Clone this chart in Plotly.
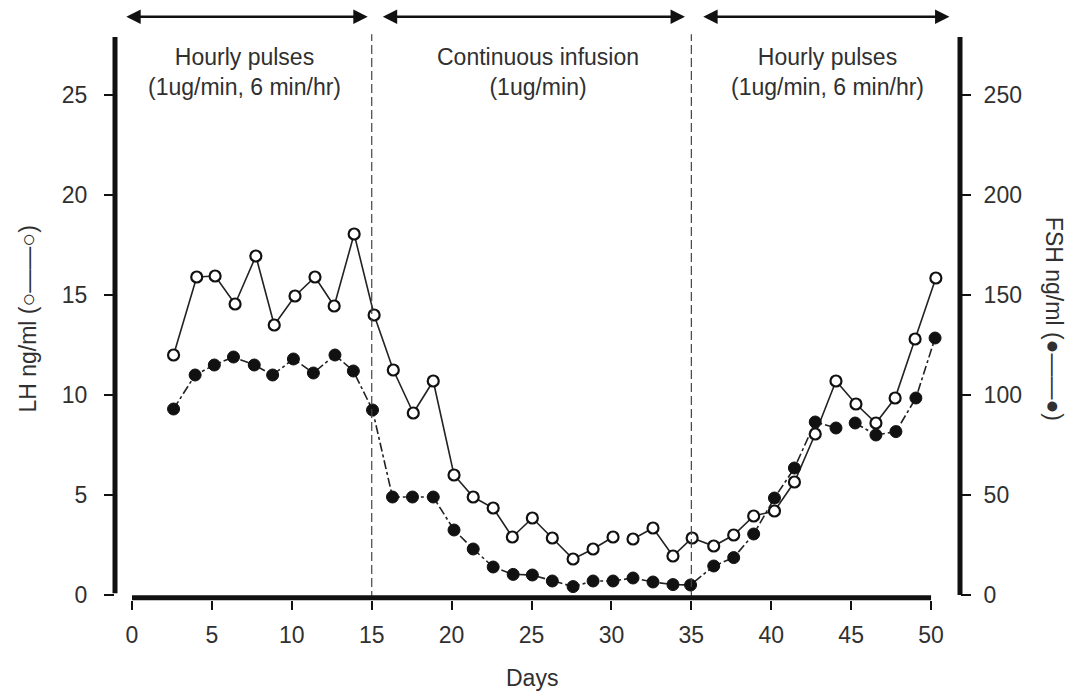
import plotly.graph_objects as go

# ---- data ----
lh_days = [2.6, 4.05, 5.2, 6.45, 7.75, 8.9, 10.2, 11.45, 12.65, 13.9, 15.15, 16.35, 17.6, 18.85,
           20.15, 21.35, 22.6, 23.8, 25.05, 26.3, 27.6, 28.85, 30.1, None, 31.35, 32.6, 33.85,
           35.05, 36.4, 37.65, 38.9, 40.2, 41.45, 42.75, 44.05, 45.3, 46.55, 47.75, 49.0, 50.3]
lh_values = [12.0, 15.9, 15.95, 14.55, 16.95, 13.5, 14.95, 15.9, 14.45, 18.05, 14.0, 11.25, 9.1, 10.7,
             6.0, 4.9, 4.35, 2.9, 3.85, 2.85, 1.8, 2.3, 2.9, None, 2.8, 3.35, 1.95,
             2.85, 2.45, 3.0, 3.95, 4.2, 5.65, 8.05, 10.7, 9.55, 8.6, 9.85, 12.8, 15.85]

fsh_days = [2.6, 3.95, 5.15, 6.35, 7.65, 8.8, 10.1, 11.35, 12.7, 13.85, 15.05, 16.3, 17.55, 18.85,
            20.15, 21.35, 22.6, 23.85, 25.05, 26.3, 27.6, 28.85, 30.1, 31.35, 32.6, 33.85, 34.95,
            36.4, 37.65, 38.9, 40.2, 41.45, 42.75, 44.05, None, 45.25, 46.55, 47.8, 49.05, 50.25]
fsh_values = [93, 110, 115, 119, 115, 110, 118, 111, 120, 112, 92.5, 49, 49, 49,
              32.5, 23, 14, 10.3, 10, 7, 4.2, 7, 7, 8.5, 6.5, 5.2, 5,
              14.5, 18.7, 30.5, 48.5, 63.5, 86.5, 83.5, None, 86, 80, 81.7, 98.5, 128.5]

x_ticks = [0, 5, 10, 15, 20, 25, 30, 35, 40, 45, 50]
lh_ticks = [0, 5, 10, 15, 20, 25]
fsh_ticks = [0, 50, 100, 150, 200, 250]

phase_bounds = [15, 35]
phase_labels = ["Hourly pulses<br>(1ug/min, 6 min/hr)",
                "Continuous infusion<br>(1ug/min)",
                "Hourly pulses<br>(1ug/min, 6 min/hr)"]
phase_label_x = [7.05, 25.4, 43.5]
phase_arrows = [(-0.45, 14.75), (15.6, 34.6), (35.65, 51.15)]

FONT = "Liberation Sans, Arial, sans-serif"
TXT = "#303030"
FS = 23

fig = go.Figure()

fig.add_trace(go.Scatter(
    x=lh_days, y=lh_values, mode="lines+markers", name="LH",
    line=dict(color="#222", width=1.6),
    marker=dict(symbol="circle", size=11, color="white", line=dict(color="#111", width=2.2)),
    connectgaps=False, yaxis="y", cliponaxis=False))

fig.add_trace(go.Scatter(
    x=fsh_days, y=fsh_values, mode="lines+markers", name="FSH",
    line=dict(color="#222", width=1.6, dash="dashdot"),
    marker=dict(symbol="circle", size=12, color="#111", line=dict(color="#111", width=1)),
    connectgaps=False, yaxis="y2", cliponaxis=False))

shapes = []
# phase boundaries
for b in phase_bounds:
    shapes.append(dict(type="line", xref="x", yref="paper", x0=b, x1=b, y0=0.0, y1=1.005,
                       line=dict(color="#444", width=1.2, dash="9px,4px")))
# x axis line (0..50)
shapes.append(dict(type="line", xref="x", yref="paper", x0=x_ticks[0], x1=x_ticks[-1],
                   y0=0.004, y1=0.004, line=dict(color="#111", width=5)))
# left and right axis lines
shapes.append(dict(type="line", xref="paper", yref="paper", x0=0, x1=0, y0=0.012, y1=1.0,
                   line=dict(color="#111", width=5)))
shapes.append(dict(type="line", xref="paper", yref="paper", x0=1, x1=1, y0=0.009, y1=1.0,
                   line=dict(color="#111", width=5)))

annotations = []
for (a, b) in phase_arrows:
    annotations.append(dict(x=b, y=1.036, xref="x", yref="paper", ax=a, ay=0,
                            axref="x", ayref="pixel", text="", showarrow=True,
                            arrowhead=2, arrowside="end+start", arrowsize=1.2,
                            arrowwidth=2.4, arrowcolor="#111"))
for lx, lt in zip(phase_label_x, phase_labels):
    annotations.append(dict(x=lx, y=0.938, xref="x", yref="paper", text=lt, showarrow=False,
                            font=dict(family=FONT, size=FS, color=TXT), align="center",
                            xanchor="center", yanchor="middle"))
annotations.append(dict(x=-0.104, y=0.5, xref="paper", yref="paper",
                        text="LH ng/ml (○——○)", textangle=-90, showarrow=False,
                        xanchor="center", yanchor="middle",
                        font=dict(family=FONT, size=FS, color=TXT)))
annotations.append(dict(x=1.112, y=0.5, xref="paper", yref="paper",
                        text="FSH ng/ml (●——●)", textangle=90, showarrow=False,
                        xanchor="center", yanchor="middle",
                        font=dict(family=FONT, size=FS, color=TXT)))
annotations.append(dict(x=25, y=-0.139, xref="x", yref="paper", text="Days",
                        showarrow=False, xanchor="center", yanchor="middle",
                        font=dict(family=FONT, size=FS, color=TXT)))

fig.update_layout(
    width=1070, height=693,
    margin=dict(l=115, r=110, t=37, b=93),
    plot_bgcolor="white", paper_bgcolor="white",
    showlegend=False,
    font=dict(family=FONT, size=FS, color=TXT),
    xaxis=dict(range=[-1.064, 51.81], tickvals=x_ticks, ticks="outside", ticklen=9,
               tickwidth=2, tickcolor="#111", showline=False, showgrid=False, zeroline=False,
               ticklabelstandoff=5, automargin=False),
    yaxis=dict(range=[-0.25, 27.9], tickvals=lh_ticks, ticks="outside", ticklen=10,
               tickwidth=2, tickcolor="#111", showline=False, showgrid=False, zeroline=False,
               ticklabelstandoff=12, automargin=False),
    yaxis2=dict(range=[-2.5, 279], tickvals=fsh_ticks, ticks="outside", ticklen=10,
                tickwidth=2, tickcolor="#111", showline=False, showgrid=False, zeroline=False,
                overlaying="y", side="right", ticklabelstandoff=8, automargin=False),
    shapes=shapes, annotations=annotations,
)

fig.write_html("out.html")
